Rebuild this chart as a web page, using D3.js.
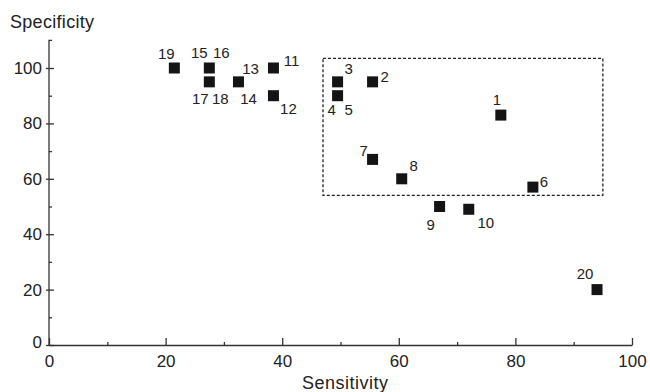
<!DOCTYPE html>
<html>
<head>
<meta charset="utf-8">
<script src="https://cdn.jsdelivr.net/npm/d3@7"></script>
<style>
  body { margin: 0; background: #fff; }
  text { font-family: "Liberation Sans", Arial, sans-serif; fill: #222; }
</style>
</head>
<body>
<div id="chart"></div>
<script>
// study numbers and their (sensitivity, specificity) points
const ids = [1, 2, 3, 6, 7, 8, 9, 10, 11, 12, 13, 15, 17, 19, 20];
const sensitivity = [77.5, 55.5, 49.5, 83, 55.5, 60.5, 67, 72, 38.5, 38.5, 32.5, 27.5, 27.5, 21.5, 94];
const specificity = [83, 95, 95, 57, 67, 60, 50, 49, 100, 90, 95, 100, 95, 100, 20];
const point4 = [49.5, 90]; // points 4 and 5 coincide

// labels: text and offset from its point (px)
const labelText = ["1", "2", "3", "4", "5", "6", "7", "8", "9", "10", "11", "12", "13", "14", "15", "16", "17", "18", "19", "20"];
const labelAt = [
  [77.5, 83], [55.5, 95], [49.5, 95], [49.5, 90], [49.5, 90], [83, 57], [55.5, 67], [60.5, 60], [67, 50], [72, 49],
  [38.5, 100], [38.5, 90], [32.5, 95], [32.5, 95], [27.5, 100], [27.5, 100], [27.5, 95], [27.5, 95], [21.5, 100], [94, 20]
];
const labelDx = [-4, 12, 11, -6, 11, 11, -9, 12, -9, 17, 18, 15, 12, 10, -10, 12, -9, 11, -8, -12];
const labelDy = [-15, -5, -13, 14, 14, -5, -9, -13, 18, 13, -7, 13, -13, 17, -15, -15, 17, 17, -14, -16];

// dashed box around the cluster
const boxX = [47, 95];
const boxY = [54, 103.5];

const xMajor = [0, 20, 40, 60, 80, 100];
const xMinor = [10, 30, 50, 70, 90];
const yMajor = [0, 20, 40, 60, 80, 100];
const yMinor = [10, 30, 50, 70, 90];

const width = 650, height = 392;
const margin = { top: 40, right: 18, bottom: 47, left: 49 };

const svg = d3.select("#chart").append("svg")
  .attr("width", width)
  .attr("height", height);

const x = d3.scaleLinear().domain([0, 100]).range([margin.left, 632]);
const y = d3.scaleLinear().domain([0, 100]).range([345, 68]);

// axes
const xAxis = svg.append("g").attr("transform", "translate(0," + y(0) + ")")
  .call(d3.axisBottom(x).tickValues(xMajor).tickSizeInner(-7).tickSizeOuter(0).tickPadding(10));
svg.append("g").attr("transform", "translate(0," + y(0) + ")")
  .call(d3.axisBottom(x).tickValues(xMinor).tickSizeInner(-3).tickSizeOuter(0).tickFormat(""))
  .select(".domain").remove();

const yAxis = svg.append("g").attr("transform", "translate(" + x(0) + ",0)")
  .call(d3.axisLeft(y).tickValues(yMajor).tickSizeInner(-5).tickSizeOuter(0).tickPadding(7));
svg.append("g").attr("transform", "translate(" + x(0) + ",0)")
  .call(d3.axisLeft(y).tickValues(yMinor).tickSizeInner(-3).tickSizeOuter(0).tickFormat(""))
  .select(".domain").remove();

// extend y axis line above 100
yAxis.select(".domain").attr("d", "M0," + y(0) + "V" + y(110) + "h3");
yAxis.selectAll(".tick line").attr("x1", -3);

svg.selectAll(".domain, .tick line").attr("stroke", "#333").attr("stroke-width", 1.3);
svg.selectAll(".tick text").style("font-size", "17px").attr("fill", "#222");
yAxis.selectAll(".tick text").filter(d => d === 0).attr("dy", "0.15em");

// axis titles
svg.append("text").attr("x", x(50.8)).attr("y", 389).attr("text-anchor", "middle")
  .style("font-size", "18px").style("letter-spacing", "0.5px").text("Sensitivity");
svg.append("text").attr("x", 10).attr("y", 28)
  .style("font-size", "18px").style("letter-spacing", "0.3px").text("Specificity");

// dashed box
svg.append("rect")
  .attr("x", x(boxX[0])).attr("y", y(boxY[1]))
  .attr("width", x(boxX[1]) - x(boxX[0]))
  .attr("height", y(boxY[0]) - y(boxY[1]))
  .attr("fill", "none").attr("stroke", "#222").attr("stroke-width", 1.3)
  .attr("stroke-dasharray", "3,2");

// markers
const pts = ids.map((id, i) => ({ id, sx: sensitivity[i], sp: specificity[i] }));
pts.push({ id: 4, sx: point4[0], sp: point4[1] });
const sq = 11;
svg.selectAll(".pt").data(pts).enter().append("rect")
  .attr("class", "pt")
  .attr("x", d => x(d.sx) - sq / 2)
  .attr("y", d => y(d.sp) - sq / 2)
  .attr("width", sq).attr("height", sq)
  .attr("fill", "#141414");

// labels
svg.selectAll(".lbl").data(labelText).enter().append("text")
  .attr("class", "lbl")
  .attr("x", (d, i) => x(labelAt[i][0]) + labelDx[i])
  .attr("y", (d, i) => y(labelAt[i][1]) + labelDy[i])
  .attr("text-anchor", "middle")
  .attr("dy", "0.35em")
  .style("font-size", "15px")
  .text(d => d);
</script>
</body>
</html>
